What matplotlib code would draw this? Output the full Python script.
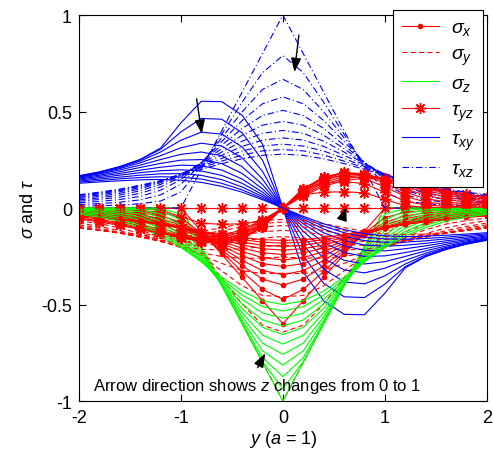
import matplotlib
matplotlib.use("Agg")
import matplotlib.pyplot as plt

plt.rcParams['font.family'] = ['Liberation Sans', 'DejaVu Sans']
plt.rcParams['mathtext.fontset'] = 'custom'
plt.rcParams['mathtext.rm'] = 'Liberation Sans'
plt.rcParams['mathtext.it'] = 'Liberation Sans:italic'
plt.rcParams['axes.unicode_minus'] = False

# y positions (a = 1)
y = [-2.0, -1.8, -1.6, -1.4, -1.2, -1.0, -0.8, -0.6, -0.4, -0.2, 0.0,
     0.2, 0.4, 0.6, 0.8, 1.0, 1.2, 1.4, 1.6, 1.8, 2.0]

# one row per depth, z = 0, 0.1, ..., 1
sigma_x = [
    [0, 0, 0, 0, 0, 0, -.12, -.24, -.36, -.48, -.6, -.48, -.36, -.24, -.12, 0, 0, 0, 0, 0, 0],
    [-.006, -.007, -.009, -.013, -.022, -.050, -.130, -.229, -.329, -.421, -.474, -.421, -.329, -.229, -.130, -.050, -.022, -.013, -.009, -.007, -.006],
    [-.011, -.014, -.018, -.025, -.041, -.074, -.138, -.218, -.299, -.368, -.400, -.368, -.299, -.218, -.138, -.074, -.041, -.025, -.018, -.014, -.011],
    [-.016, -.020, -.026, -.036, -.055, -.088, -.141, -.206, -.272, -.324, -.346, -.324, -.272, -.206, -.141, -.088, -.055, -.036, -.026, -.020, -.016],
    [-.021, -.026, -.034, -.046, -.066, -.097, -.142, -.195, -.247, -.288, -.303, -.288, -.247, -.195, -.142, -.097, -.066, -.046, -.034, -.026, -.021],
    [-.025, -.031, -.040, -.053, -.073, -.102, -.140, -.184, -.226, -.257, -.269, -.257, -.226, -.184, -.140, -.102, -.073, -.053, -.040, -.031, -.025],
    [-.029, -.036, -.046, -.059, -.078, -.104, -.137, -.174, -.208, -.232, -.241, -.232, -.208, -.174, -.137, -.104, -.078, -.059, -.046, -.036, -.029],
    [-.033, -.040, -.050, -.064, -.082, -.105, -.134, -.164, -.191, -.211, -.218, -.211, -.191, -.164, -.134, -.105, -.082, -.064, -.050, -.040, -.033],
    [-.036, -.044, -.054, -.067, -.084, -.105, -.129, -.154, -.177, -.193, -.199, -.193, -.177, -.154, -.129, -.105, -.084, -.067, -.054, -.044, -.036],
    [-.039, -.047, -.057, -.069, -.085, -.104, -.125, -.146, -.164, -.177, -.182, -.177, -.164, -.146, -.125, -.104, -.085, -.069, -.057, -.047, -.039],
    [-.041, -.049, -.059, -.071, -.085, -.102, -.120, -.138, -.153, -.164, -.168, -.164, -.153, -.138, -.120, -.102, -.085, -.071, -.059, -.049, -.041],
]

sigma_y = [
    [0, 0, 0, 0, 0, 0, -.2, -.4, -.6, -.8, -1, -.8, -.6, -.4, -.2, 0, 0, 0, 0, 0, 0],
    [-.018, -.023, -.031, -.043, -.070, -.135, -.232, -.363, -.497, -.607, -.643, -.607, -.497, -.363, -.232, -.135, -.070, -.043, -.031, -.023, -.018],
    [-.036, -.045, -.059, -.081, -.123, -.183, -.247, -.326, -.403, -.453, -.460, -.453, -.403, -.326, -.247, -.183, -.123, -.081, -.059, -.045, -.036],
    [-.052, -.065, -.083, -.112, -.153, -.203, -.245, -.287, -.324, -.340, -.338, -.340, -.324, -.287, -.245, -.203, -.153, -.112, -.083, -.065, -.052],
    [-.066, -.081, -.103, -.133, -.169, -.206, -.233, -.251, -.261, -.259, -.254, -.259, -.261, -.251, -.233, -.206, -.169, -.133, -.103, -.081, -.066],
    [-.078, -.095, -.117, -.145, -.174, -.201, -.214, -.217, -.211, -.200, -.193, -.200, -.211, -.217, -.214, -.201, -.174, -.145, -.117, -.095, -.078],
    [-.087, -.104, -.126, -.151, -.173, -.190, -.194, -.187, -.172, -.156, -.148, -.156, -.172, -.187, -.194, -.190, -.173, -.151, -.126, -.104, -.087],
    [-.095, -.111, -.130, -.151, -.167, -.177, -.174, -.161, -.141, -.123, -.116, -.123, -.141, -.161, -.174, -.177, -.167, -.151, -.130, -.111, -.095],
    [-.100, -.115, -.131, -.147, -.159, -.162, -.155, -.138, -.117, -.098, -.091, -.098, -.117, -.138, -.155, -.162, -.159, -.147, -.131, -.115, -.100],
    [-.103, -.116, -.130, -.142, -.149, -.148, -.137, -.118, -.097, -.080, -.073, -.080, -.097, -.118, -.137, -.148, -.149, -.142, -.130, -.116, -.103],
    [-.104, -.116, -.127, -.135, -.138, -.134, -.121, -.102, -.081, -.065, -.059, -.065, -.081, -.102, -.121, -.134, -.138, -.135, -.127, -.116, -.104],
]

sigma_z = [
    [0, 0, 0, 0, 0, 0, -.2, -.4, -.6, -.8, -1, -.8, -.6, -.4, -.2, 0, 0, 0, 0, 0, 0],
    [0, 0, 0, 0, -.002, -.031, -.202, -.401, -.599, -.795, -.937, -.795, -.599, -.401, -.202, -.031, -.002, 0, 0, 0, 0],
    [-.001, -.001, -.002, -.003, -.013, -.062, -.211, -.401, -.593, -.775, -.874, -.775, -.593, -.401, -.211, -.062, -.013, -.003, -.002, -.001, -.001],
    [-.002, -.003, -.005, -.009, -.030, -.091, -.225, -.401, -.581, -.740, -.814, -.740, -.581, -.401, -.225, -.091, -.030, -.009, -.005, -.003, -.002],
    [-.004, -.006, -.010, -.019, -.049, -.117, -.240, -.400, -.564, -.700, -.758, -.700, -.564, -.400, -.240, -.117, -.049, -.019, -.010, -.006, -.004],
    [-.006, -.010, -.018, -.032, -.069, -.139, -.253, -.397, -.543, -.659, -.705, -.659, -.543, -.397, -.253, -.139, -.069, -.032, -.018, -.010, -.006],
    [-.010, -.016, -.027, -.047, -.088, -.158, -.264, -.392, -.520, -.618, -.656, -.618, -.520, -.392, -.264, -.158, -.088, -.047, -.027, -.016, -.010],
    [-.015, -.023, -.037, -.062, -.105, -.175, -.272, -.385, -.497, -.580, -.611, -.580, -.497, -.385, -.272, -.175, -.105, -.062, -.037, -.023, -.015],
    [-.021, -.031, -.048, -.076, -.121, -.187, -.276, -.377, -.474, -.544, -.571, -.544, -.474, -.377, -.276, -.187, -.121, -.076, -.048, -.031, -.021],
    [-.027, -.039, -.058, -.089, -.133, -.197, -.278, -.368, -.451, -.511, -.534, -.511, -.451, -.368, -.278, -.197, -.133, -.089, -.058, -.039, -.027],
    [-.033, -.047, -.068, -.101, -.145, -.205, -.278, -.358, -.430, -.481, -.500, -.481, -.430, -.358, -.278, -.205, -.145, -.101, -.068, -.047, -.033],
]

tau_yz = [
    [0] * 21,
    [-.001, -.002, -.002, -.004, -.011, -.045, -.079, -.084, -.082, -.069, 0, .069, .082, .084, .079, .045, .011, .004, .002, .002, .001],
    [-.004, -.006, -.009, -.015, -.035, -.081, -.126, -.137, -.130, -.095, 0, .095, .130, .137, .126, .081, .035, .015, .009, .006, .004],
    [-.009, -.013, -.019, -.031, -.060, -.109, -.153, -.168, -.153, -.101, 0, .101, .153, .168, .153, .109, .060, .031, .019, .013, .009],
    [-.015, -.021, -.031, -.049, -.082, -.128, -.169, -.182, -.161, -.100, 0, .100, .161, .182, .169, .128, .082, .049, .031, .021, .015],
    [-.022, -.031, -.044, -.066, -.099, -.141, -.176, -.185, -.159, -.095, 0, .095, .159, .185, .176, .141, .099, .066, .044, .031, .022],
    [-.030, -.040, -.056, -.081, -.112, -.149, -.177, -.181, -.152, -.089, 0, .089, .152, .181, .177, .149, .112, .081, .056, .040, .030],
    [-.037, -.049, -.067, -.092, -.121, -.153, -.174, -.173, -.143, -.082, 0, .082, .143, .173, .174, .153, .121, .092, .067, .049, .037],
    [-.044, -.058, -.077, -.101, -.127, -.153, -.169, -.164, -.132, -.075, 0, .075, .132, .164, .169, .153, .127, .101, .077, .058, .044],
    [-.051, -.066, -.084, -.107, -.130, -.151, -.162, -.154, -.122, -.068, 0, .068, .122, .154, .162, .151, .130, .107, .084, .066, .051],
    [-.057, -.072, -.090, -.111, -.131, -.148, -.154, -.143, -.112, -.062, 0, .062, .112, .143, .154, .148, .131, .111, .090, .072, .057],
]

tau_xy = [
    [.167, .187, .215, .252, .310, .441, .553, .551, .481, .331, 0, -.331, -.481, -.551, -.553, -.441, -.310, -.252, -.215, -.187, -.167],
    [.166, .186, .213, .249, .304, .394, .464, .460, .390, .248, 0, -.248, -.390, -.460, -.464, -.394, -.304, -.249, -.213, -.186, -.166],
    [.164, .184, .209, .243, .290, .351, .393, .383, .317, .190, 0, -.190, -.317, -.383, -.393, -.351, -.290, -.243, -.209, -.184, -.164],
    [.162, .180, .204, .234, .271, .312, .336, .321, .260, .150, 0, -.150, -.260, -.321, -.336, -.312, -.271, -.234, -.204, -.180, -.162],
    [.159, .176, .197, .222, .251, .278, .290, .271, .214, .121, 0, -.121, -.214, -.271, -.290, -.278, -.251, -.222, -.197, -.176, -.159],
    [.155, .170, .188, .210, .231, .248, .251, .230, .179, .099, 0, -.099, -.179, -.230, -.251, -.248, -.231, -.210, -.188, -.170, -.155],
    [.150, .164, .179, .196, .211, .222, .219, .197, .150, .082, 0, -.082, -.150, -.197, -.219, -.222, -.211, -.196, -.179, -.164, -.150],
    [.145, .157, .170, .183, .193, .198, .192, .169, .128, .069, 0, -.069, -.128, -.169, -.192, -.198, -.193, -.183, -.170, -.157, -.145],
    [.139, .150, .160, .170, .177, .178, .169, .147, .109, .059, 0, -.059, -.109, -.147, -.169, -.178, -.177, -.170, -.160, -.150, -.139],
    [.134, .142, .151, .158, .162, .160, .150, .128, .094, .050, 0, -.050, -.094, -.128, -.150, -.160, -.162, -.158, -.151, -.142, -.134],
    [.128, .135, .141, .146, .148, .144, .133, .112, .082, .043, 0, -.043, -.082, -.112, -.133, -.144, -.148, -.146, -.141, -.135, -.128],
]

tau_xz = [
    [0, 0, 0, 0, 0, 0, .2, .4, .6, .8, 1, .8, .6, .4, .2, 0, 0, 0, 0, 0, 0],
    [.009, .012, .015, .022, .036, .083, .217, .382, .548, .701, .790, .701, .548, .382, .217, .083, .036, .022, .015, .012, .009],
    [.018, .023, .030, .042, .068, .123, .229, .363, .498, .614, .667, .614, .498, .363, .229, .123, .068, .042, .030, .023, .018],
    [.027, .034, .044, .060, .092, .147, .235, .344, .453, .540, .576, .540, .453, .344, .235, .147, .092, .060, .044, .034, .027],
    [.035, .044, .056, .076, .109, .161, .237, .325, .412, .479, .506, .479, .412, .325, .237, .161, .109, .076, .056, .044, .035],
    [.042, .052, .067, .089, .122, .170, .234, .307, .377, .429, .449, .429, .377, .307, .234, .170, .122, .089, .067, .052, .042],
    [.049, .060, .076, .099, .131, .174, .229, .290, .346, .387, .402, .387, .346, .290, .229, .174, .131, .099, .076, .060, .049],
    [.055, .067, .084, .106, .136, .176, .223, .273, .319, .352, .363, .352, .319, .273, .223, .176, .136, .106, .084, .067, .055],
    [.060, .073, .090, .112, .140, .175, .215, .257, .295, .321, .331, .321, .295, .257, .215, .175, .140, .112, .090, .073, .060],
    [.065, .078, .094, .115, .141, .173, .208, .243, .274, .296, .303, .296, .274, .243, .208, .173, .141, .115, .094, .078, .065],
    [.069, .082, .098, .118, .141, .169, .200, .230, .255, .273, .279, .273, .255, .230, .200, .169, .141, .118, .098, .082, .069],
]

labels = [r'$\sigma_x$', r'$\sigma_y$', r'$\sigma_z$', r'$\tau_{yz}$', r'$\tau_{xy}$', r'$\tau_{xz}$']

# arrows: (tail, head) in data units
arrow_tails = [(0.16, 0.91), (-0.85, 0.58), (0.58, -0.06), (-0.26, -0.84)]
arrow_heads = [(0.11, 0.69), (-0.79, 0.37), (0.63, 0.02), (-0.16, -0.74)]

fig = plt.figure(figsize=(4.93, 4.52), dpi=100)
ax = fig.add_axes([0.160, 0.1106, 0.8276, 0.854])

dash = (0, (4.5, 3))
dashdot = (0, (6, 2.5, 1, 2.5))
lw = 0.8
star = (8, 2, 0)  # asterisk, like matlab '*'
handles = []
for k in range(len(sigma_x)):
    h1, = ax.plot(y, sigma_x[k], color='r', lw=lw, marker='.', ms=6)
    h2, = ax.plot(y, sigma_y[k], color='r', lw=lw, ls=dash)
    h3, = ax.plot(y, sigma_z[k], color='#00ff00', lw=lw)
    h4, = ax.plot(y, tau_yz[k], color='r', lw=lw, marker=star, ms=8, mew=1.0)
    h5, = ax.plot(y, tau_xy[k], color='b', lw=lw)
    h6, = ax.plot(y, tau_xz[k], color='b', lw=lw, ls=dashdot)
    if k == 0:
        handles = [h1, h2, h3, h4, h5, h6]

for tail, head in zip(arrow_tails, arrow_heads):
    ax.annotate('', xy=head, xytext=tail,
                arrowprops=dict(arrowstyle='-|>,head_length=0.6,head_width=0.22',
                                color='k', lw=1.0, mutation_scale=14))

ax.text(-1.86, -0.92, 'Arrow direction shows $z$ changes from 0 to 1',
        fontsize=12, ha='left', va='center')

ax.set_xlim(-2, 2)
ax.set_ylim(-1, 1)
ax.set_xticks([-2, -1, 0, 1, 2])
ax.set_xticklabels(['-2', '-1', '0', '1', '2'])
ax.set_yticks([-1, -0.5, 0, 0.5, 1])
ax.set_yticklabels(['-1', '-0.5', '0', '0.5', '1'])
ax.tick_params(direction='in', top=True, right=True, length=5, width=0.8,
               labelsize=13)
ax.tick_params(axis='x', pad=6)
ax.tick_params(axis='y', pad=5)
for s in ax.spines.values():
    s.set_linewidth(0.8)

ax.set_xlabel('$y$ ($a$ = 1)', fontsize=13, labelpad=1)
ax.set_ylabel(r'$\sigma$ and $\tau$', fontsize=13, labelpad=3)

leg = fig.legend(handles, labels, loc='upper right',
                 bbox_to_anchor=(483 / 493, 1 - 11 / 452),
                 fontsize=14, frameon=True, fancybox=False,
                 edgecolor='k', framealpha=1, borderaxespad=0,
                 handlelength=1.9, labelspacing=0.4, handletextpad=0.6,
                 borderpad=0.45)
leg.get_frame().set_linewidth(0.8)

fig.savefig('out.png', dpi=100)
